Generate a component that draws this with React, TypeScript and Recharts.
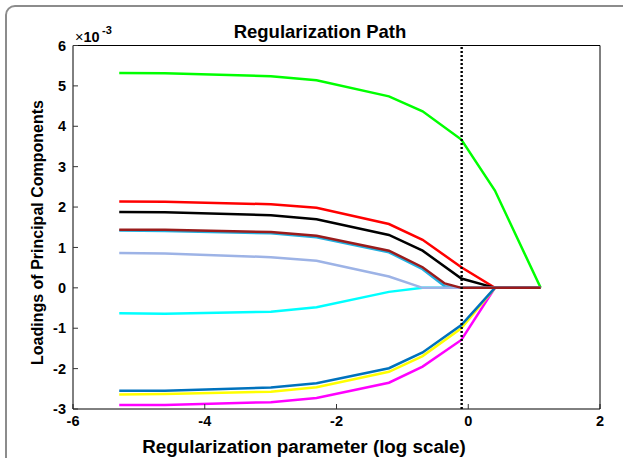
import { LineChart, Line, XAxis, YAxis, ReferenceLine } from "recharts"

const FONT = "'Liberation Sans', Arial, Helvetica, sans-serif"

// log(lambda) values along the path
const logLambda = [-5.298, -4.605, -2.996, -2.303, -1.204, -0.693, -0.357, -0.105, 0.405, 1.099]

// loadings, in units of 1e-3 (null = no visible vertex there)
const green = [5.32, 5.31, 5.24, 5.14, 4.74, 4.37, null, 3.67, 2.41, 0]
const red = [2.14, 2.13, 2.07, 1.98, 1.58, 1.19, null, 0.51, 0, 0]
const black = [1.88, 1.87, 1.8, 1.7, 1.31, 0.92, null, 0.23, 0, 0]
const cyan = [-0.63, -0.64, -0.59, -0.48, -0.1, 0, null, 0, 0, 0]
const magenta = [-2.9, -2.9, -2.83, -2.73, -2.35, -1.95, null, -1.29, 0, 0]
const yellow = [-2.64, -2.63, -2.57, -2.46, -2.08, -1.69, null, -1.0, 0, 0]
const blue = [-2.55, -2.55, -2.47, -2.36, -1.99, -1.6, null, -0.92, 0, 0]
const skyBlue = [1.42, 1.41, 1.35, 1.25, 0.88, 0.46, 0.04, 0, 0, 0]
const lightBlue = [0.86, 0.85, 0.76, 0.67, 0.28, 0, null, 0, 0, 0]
const darkRed = [1.44, 1.44, 1.38, 1.29, 0.92, 0.51, 0.11, 0, 0, 0]

const xTicks = [-6, -4, -2, 0, 2]
const yTicks = [-3, -2, -1, 0, 1, 2, 3, 4, 5, 6]
const selectedLogLambda = -0.1

// drawing order: first is at the bottom
const series = [
  { key: "green", values: green, color: "#00ff00" },
  { key: "cyan", values: cyan, color: "#00ffff" },
  { key: "magenta", values: magenta, color: "#ff00ff" },
  { key: "yellow", values: yellow, color: "#ffff00" },
  { key: "blue", values: blue, color: "#0072bd" },
  { key: "red", values: red, color: "#ff0000" },
  { key: "black", values: black, color: "#000000" },
  { key: "skyBlue", values: skyBlue, color: "#22b0e0" },
  { key: "lightBlue", values: lightBlue, color: "#9db3e6" },
  { key: "darkRed", values: darkRed, color: "#9a1c1c" },
]

// bold MATLAB-style tick labels
const BottomTick = (props: any) => (
  <text
    x={props.x}
    y={props.y}
    dy="0.72em"
    textAnchor="middle"
    fontFamily={FONT}
    fontSize={14.5}
    fontWeight="bold"
    fill="#000"
  >
    {props.payload.value}
  </text>
)

const LeftTick = (props: any) => (
  <text
    x={props.x}
    y={props.y}
    dy="0.36em"
    textAnchor="end"
    fontFamily={FONT}
    fontSize={14.5}
    fontWeight="bold"
    fill="#000"
  >
    {props.payload.value}
  </text>
)

export default function App() {
  const data = logLambda.map((x, i) => {
    const row: Record<string, number | null> = { x }
    series.forEach((s) => (row[s.key] = s.values[i]))
    return row
  })

  return (
    <div
      style={{
        position: "absolute",
        left: 0,
        top: 0,
        width: 623,
        height: 458,
        overflow: "hidden",
        background: "#fff",
        fontFamily: FONT,
      }}
    >
      <div
        style={{
          position: "absolute",
          left: 5,
          top: 5,
          width: 650,
          height: 520,
          border: "2px solid #8c8c8c",
          borderRadius: 10,
          boxSizing: "border-box",
        }}
      />
      <div style={{ position: "absolute", left: 0, top: 0 }}>
        <LineChart
          width={623}
          height={458}
          data={data}
          margin={{ top: 44.5, right: 22, bottom: 0, left: 0 }}
        >
          <XAxis
            dataKey="x"
            type="number"
            domain={[-6, 2]}
            ticks={xTicks}
            height={49}
            tickSize={-5}
            tickMargin={12}
            tick={<BottomTick />}
            axisLine={{ stroke: "#000" }}
            tickLine={{ stroke: "#333" }}
          />
          <XAxis
            xAxisId="top"
            orientation="top"
            type="number"
            domain={[-6, 2]}
            ticks={xTicks}
            height={1}
            tickSize={-5}
            tick={false}
            axisLine={{ stroke: "#000" }}
            tickLine={{ stroke: "#333" }}
          />
          <YAxis
            type="number"
            domain={[-3, 6]}
            ticks={yTicks}
            width={73}
            tickSize={-5}
            tickMargin={12}
            tick={<LeftTick />}
            axisLine={{ stroke: "#000" }}
            tickLine={{ stroke: "#333" }}
          />
          <YAxis
            yAxisId="right"
            orientation="right"
            type="number"
            domain={[-3, 6]}
            ticks={yTicks}
            width={1}
            tickSize={-5}
            tick={false}
            axisLine={{ stroke: "#000" }}
            tickLine={{ stroke: "#333" }}
          />
          {series.map((s) => (
            <Line
              key={s.key}
              type="linear"
              dataKey={s.key}
              stroke={s.color}
              strokeWidth={2.5}
              dot={false}
              connectNulls
              isAnimationActive={false}
            />
          ))}
          <ReferenceLine
            x={selectedLogLambda}
            stroke="#000"
            strokeWidth={2.4}
            strokeDasharray="2 2"
          />
        </LineChart>
      </div>
      <svg
        width={623}
        height={458}
        style={{ position: "absolute", left: 0, top: 0, pointerEvents: "none" }}
        fontFamily={FONT}
      >
        <text x={320} y={37.7} textAnchor="middle" fontSize={18.5} fontWeight="bold" fill="#000">
          Regularization Path
        </text>
        <text x={75} y={41.7} fontSize={14.5} fill="#000">
          <tspan>×</tspan>
          <tspan fontWeight="bold">10</tspan>
          <tspan fontWeight="bold" fontSize={11} dx={2.5} dy={-7.4}>-3</tspan>
        </text>
        <text x={304} y={452.7} textAnchor="middle" fontSize={18.8} fontWeight="bold" fill="#000">
          Regularization parameter (log scale)
        </text>
        <text
          transform="translate(43.3,232.5) rotate(-90)"
          textAnchor="middle"
          fontSize={16}
          fontWeight="bold"
          fill="#000"
        >
          Loadings of Principal Components
        </text>
      </svg>
    </div>
  )
}
